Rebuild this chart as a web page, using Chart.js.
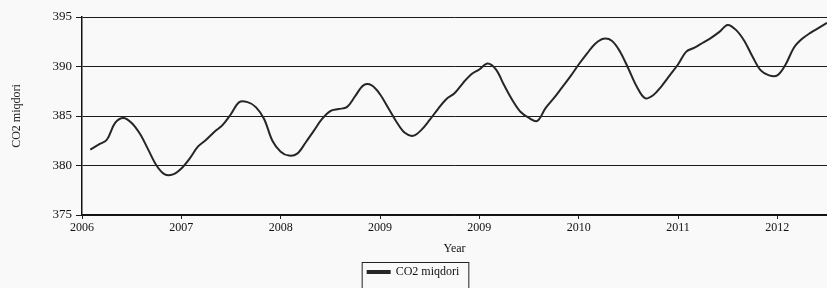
<!DOCTYPE html>
<html>
<head>
<meta charset="utf-8">
<script src="https://cdn.jsdelivr.net/npm/chart.js@4/dist/chart.umd.min.js"></script>
<style>
  html, body { margin: 0; padding: 0; background: #f9f9f9; }
  #wrap { width: 827px; height: 288px; }
</style>
</head>
<body>
<div id="wrap"><canvas id="chart-area" width="827" height="288"></canvas></div>
<script>
// tick labels as printed under the axis (2009 appears twice in the original)
const tickLabels = ['2006', '2007', '2008', '2009', '2009', '2010', '2011', '2012'];
const yTicks = [375, 380, 385, 390, 395];

// monthly CO2 readings, first one is month 1 after the 2006 tick
const co2 = [
  381.6, 382.1, 382.6, 384.3, 384.8, 384.3, 383.2, 381.6, 380.0, 379.1,
  379.1, 379.7, 380.7, 381.9, 382.6, 383.4, 384.1, 385.2, 386.4, 386.4,
  385.9, 384.7, 382.5, 381.4, 381.0, 381.2, 382.3, 383.5, 384.7, 385.5,
  385.7, 385.9, 387.0, 388.1, 388.1, 387.2, 385.8, 384.4, 383.3, 383.0,
  383.6, 384.6, 385.7, 386.7, 387.3, 388.3, 389.2, 389.7, 390.3, 389.7,
  388.1, 386.6, 385.4, 384.8, 384.5, 385.8, 386.8, 387.9, 389.0, 390.2,
  391.3, 392.3, 392.8, 392.6, 391.5, 389.8, 388.0, 386.8, 387.1, 388.0,
  389.1, 390.2, 391.5, 391.9, 392.4, 392.9, 393.5, 394.2, 393.7, 392.6,
  391.0, 389.6, 389.1, 389.1, 390.2, 391.9, 392.8, 393.4, 393.9, 394.4
];
const startMonth = 1;
const lastMonth = 90;

let points = [];
for (let i = 0; i < co2.length; i++) {
  points.push({ x: startMonth + i, y: co2[i] });
}

const serif = "'Liberation Serif', 'DejaVu Serif', serif";

// frame around the legend like in the scanned figure
const legendBox = {
  id: 'legendBox',
  afterDraw(chart) {
    const lg = chart.legend;
    if (!lg || !lg.legendHitBoxes.length) return;
    const hb = lg.legendHitBoxes[0];
    const ctx = chart.ctx;
    ctx.save();
    ctx.strokeStyle = '#222';
    ctx.lineWidth = 1;
    ctx.strokeRect(hb.left - 5.5, hb.top - 3.5, hb.width + 15, 26);
    ctx.restore();
  }
};

const ctx = document.getElementById('chart-area').getContext('2d');
new Chart(ctx, {
  type: 'line',
  data: {
    datasets: [{
      label: 'CO2 miqdori',
      data: points,
      borderColor: '#262626',
      backgroundColor: '#262626',
      borderWidth: 2,
      pointRadius: 0,
      tension: 0.35,
      fill: false
    }]
  },
  options: {
    responsive: false,
    animation: false,
    layout: { padding: { top: 17, right: 0, left: 0, bottom: 0 } },
    plugins: {
      tooltip: { enabled: false },
      legend: {
        position: 'bottom',
        labels: {
          boxWidth: 22,
          boxHeight: 2,
          padding: 6,
          color: '#111',
          font: { family: serif, size: 12 }
        }
      }
    },
    scales: {
      x: {
        type: 'linear',
        min: 0,
        max: lastMonth,
        afterBuildTicks(axis) {
          axis.ticks = tickLabels.map((t, i) => ({ value: i * 12 }));
        },
        afterFit(axis) { axis.height = 45; },
        ticks: {
          padding: 2,
          maxRotation: 0,
          color: '#111',
          font: { family: serif, size: 12 },
          callback: (v) => tickLabels[Math.round(v / 12)]
        },
        grid: { drawOnChartArea: false, drawTicks: true, tickLength: 4, color: '#222' },
        border: { color: '#111', width: 1.5 },
        title: {
          display: true,
          text: 'Year',
          color: '#111',
          font: { family: serif, size: 12 },
          padding: { top: 0, bottom: 4 }
        }
      },
      y: {
        min: 375,
        max: 395,
        afterBuildTicks(axis) {
          axis.ticks = yTicks.map(v => ({ value: v }));
        },
        afterFit(axis) { axis.width = 82; },
        ticks: {
          padding: 4,
          color: '#111',
          font: { family: serif, size: 13 }
        },
        grid: { color: '#1a1a1a', lineWidth: 1, tickLength: 6 },
        border: { color: '#111', width: 1.5 },
        title: {
          display: true,
          text: 'CO2 miqdori',
          color: '#222',
          font: { family: serif, size: 12 },
          padding: { top: 10, bottom: 0 }
        }
      }
    }
  },
  plugins: [legendBox]
});
</script>
</body>
</html>
